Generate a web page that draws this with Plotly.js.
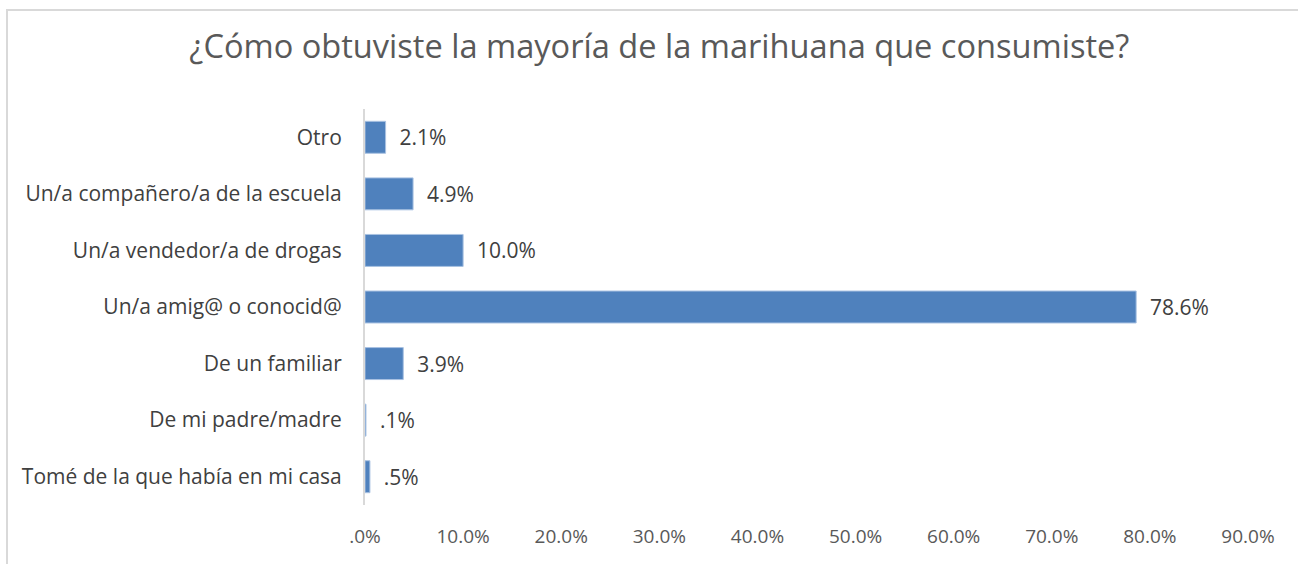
<!DOCTYPE html>
<html>
<head>
<meta charset="utf-8">
<script src="https://cdn.plot.ly/plotly-3.0.1.min.js"></script>
<style>
  html, body { margin: 0; padding: 0; background: #fff; }
  #wrap { position: relative; width: 1298px; height: 564px; overflow: hidden; }
  #chart { position: absolute; left: 0; top: 0; width: 1298px; height: 564px; }
  #frame { position: absolute; left: 6px; top: 9px; width: 1400px; height: 700px;
           border-left: 2px solid #d9d9d9; border-top: 2px solid #d9d9d9; pointer-events: none; }
</style>
</head>
<body>
<div id="wrap">
  <div id="chart"></div>
  <div id="frame"></div>
</div>
<script>
const categories = [
  "Otro",
  "Un/a compañero/a de la escuela",
  "Un/a vendedor/a de drogas",
  "Un/a amig@ o conocid@",
  "De un familiar",
  "De mi padre/madre",
  "Tomé de la que había en mi casa"
];
const values = [2.1, 4.9, 10.0, 78.6, 3.9, 0.1, 0.5];
const valueLabels = ["2.1%", "4.9%", "10.0%", "78.6%", "3.9%", ".1%", ".5%"];
const tickValues = [0, 10, 20, 30, 40, 50, 60, 70, 80, 90];
const tickLabels = [".0%", "10.0%", "20.0%", "30.0%", "40.0%", "50.0%", "60.0%", "70.0%", "80.0%", "90.0%"];

const font = "Open Sans, Noto Sans, sans-serif";

const trace = {
  type: "bar",
  orientation: "h",
  y: categories,
  x: values,
  text: valueLabels.map(t => "\u00a0\u00a0" + t),
  textposition: "outside",
  constraintext: "none",
  cliponaxis: false,
  textfont: { family: font, size: 21, color: "#404040" },
  marker: { color: "#4f81bd", line: { color: "#a9c2e2", width: 1 } },
  hoverinfo: "none"
};

const layout = {
  width: 1298,
  height: 564,
  margin: { l: 365, r: 50, t: 109, b: 59 },
  paper_bgcolor: "#ffffff",
  plot_bgcolor: "#ffffff",
  bargap: 0.435,
  showlegend: false,
  title: {
    text: "¿Cómo obtuviste la mayoría de la marihuana que consumiste?",
    font: { family: font, size: 32.6, color: "#595959" },
    x: 0.508, xanchor: "center",
    y: 0.918, yanchor: "middle"
  },
  xaxis: {
    range: [0, 90],
    tickvals: tickValues,
    ticktext: tickLabels,
    showgrid: false,
    zeroline: false,
    showline: false,
    ticks: "",
    tickfont: { family: font, size: 19, color: "#595959" },
    ticklabelstandoff: 18,
    fixedrange: true
  },
  yaxis: {
    autorange: "reversed",
    showgrid: false,
    zeroline: false,
    showline: true,
    linecolor: "#d9d9d9",
    linewidth: 2,
    ticks: "",
    tickfont: { family: font, size: 21, color: "#404040" },
    ticklabelstandoff: 17,
    fixedrange: true
  }
};

Plotly.newPlot("chart", [trace], layout, { displayModeBar: false, staticPlot: true });
</script>
</body>
</html>
